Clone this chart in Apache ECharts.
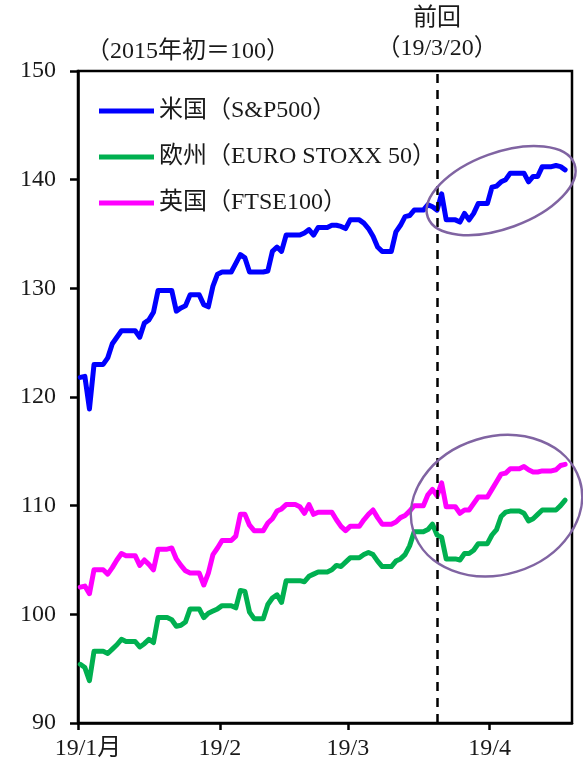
<!DOCTYPE html>
<html>
<head>
<meta charset="utf-8">
<script src="https://cdn.jsdelivr.net/npm/echarts@6/dist/echarts.min.js"></script>
<style>
  html, body { margin: 0; padding: 0; background: #fff; }
  #chart { width: 583px; height: 769px; }
</style>
</head>
<body>
<div id="chart"></div>
<script>
// ---- data (2019, trading days; index 2015年初 = 100) ----
const dates = [
  '01/01','01/02','01/03','01/04','01/07','01/08','01/09','01/10','01/11','01/14','01/15','01/16','01/17','01/18','01/21','01/22','01/23','01/24','01/25','01/28','01/29','01/30','01/31',
  '02/01','02/04','02/05','02/06','02/07','02/08','02/11','02/12','02/13','02/14','02/15','02/18','02/19','02/20','02/21','02/22','02/25','02/26','02/27','02/28',
  '03/01','03/04','03/05','03/06','03/07','03/08','03/11','03/12','03/13','03/14','03/15','03/18','03/19','03/20','03/21','03/22','03/25','03/26','03/27','03/28','03/29',
  '04/01','04/02','04/03','04/04','04/05','04/08','04/09','04/10','04/11','04/12','04/15','04/16','04/17'
];
const sp500 = [
  121.8,121.9,118.9,123.0,123.6,124.9,125.5,126.1,126.1,125.5,126.8,127.1,127.8,129.8,129.8,127.9,128.2,128.4,129.4,128.5,128.3,130.2,131.3,
  131.5,132.3,133.1,132.8,131.5,131.5,131.6,133.4,133.8,133.4,134.9,134.9,135.1,135.4,134.9,135.6,135.8,135.8,135.7,135.5,
  136.3,136.0,135.5,134.8,133.8,133.4,135.2,135.8,136.6,136.7,137.2,137.7,137.5,137.2,138.7,136.3,136.1,136.9,136.3,136.9,137.8,
  139.3,139.4,139.8,140.0,140.6,140.6,139.8,140.3,140.3,141.2,141.3,141.2,140.9
];
const stoxx50 = [
  95.4,95.1,93.9,96.6,96.4,96.8,97.2,97.7,97.5,97.0,97.3,97.7,97.4,99.7,99.5,98.9,99.0,99.3,100.5,99.7,100.1,100.3,100.5,
  100.8,100.6,102.2,102.1,100.2,99.6,100.9,101.5,101.8,101.1,103.1,103.1,103.0,103.5,103.7,103.9,104.1,104.5,104.4,104.8,
  105.2,105.5,105.7,105.5,104.9,104.4,104.9,105.1,105.5,106.3,107.6,107.8,108.3,107.3,107.1,105.1,105.0,105.6,105.6,105.9,106.5,
  107.3,107.8,109.0,109.4,109.5,109.3,108.6,108.8,109.2,109.6,109.6,110.0,110.5
];
const ftse100 = [
  102.5,102.6,101.9,104.1,103.7,104.3,105.0,105.6,105.4,104.5,105.0,104.6,104.1,106.0,106.1,105.1,104.5,104.0,103.8,102.7,103.8,105.5,106.1,
  106.8,107.2,109.2,109.2,108.2,107.7,108.4,108.8,109.5,109.7,110.1,109.9,109.3,110.1,109.2,109.4,109.4,108.7,108.1,107.7,
  108.1,108.7,109.2,109.6,108.9,108.3,108.5,108.9,109.1,109.5,110.0,111.0,111.5,110.9,112.1,109.9,109.3,109.6,109.6,110.2,110.8,
  111.5,112.2,112.9,113.0,113.4,113.6,113.3,113.1,113.1,113.2,113.3,113.7,113.8
];
const seriesNames = ['米国（S&P500）', '欧州（EURO STOXX 50）', '英国（FTSE100）'];
const xTickDates = ['01/01', '02/01', '03/01', '04/01'];
const xTickLabels = ['19/1月', '19/2', '19/3', '19/4'];
const axisEndDate = '04/19';
const previousDate = '03/20';
const previousLabel = ['前回', '（19/3/20）'];
const unitLabel = '（2015年初＝100）';
const yMin = 90, yMax = 150, yStep = 10;
// annotation ellipses, centred on data coordinates
const ellipses = [
  { date: '04/03', value: 139.0, rx: 78, ry: 38, angleDeg: 20 },
  { date: '04/02', value: 110.0, rx: 87, ry: 69, angleDeg: 17 }
];

// ---- helpers ----
function dayIndex(md) {
  const [m, d] = md.split('/').map(Number);
  return (Date.UTC(2019, m - 1, d) - Date.UTC(2019, 0, 1)) / 86400000;
}
// each day's value sits in the middle of its calendar-day slot
function dayCenter(md) { return dayIndex(md) + 0.5; }
// calendar-day display: a close stays in place over the following non-trading days
function calendarPoints(vals) {
  const out = [];
  dates.forEach(function (d, i) {
    const x = dayCenter(d);
    out.push([x, vals[i]]);
    if (i + 1 < dates.length) {
      const nx = dayCenter(dates[i + 1]);
      if (nx - x > 1) out.push([nx - 1, vals[i]]);
    }
  });
  return out;
}

const FONT = "'Liberation Serif', 'Noto Sans CJK JP', serif";
const TXT = '#1a1a1a';
const tickVals = xTickDates.map(dayIndex);

const chart = echarts.init(document.getElementById('chart'), null, { renderer: 'canvas' });

function lineSeries(name, vals, color, extra) {
  return Object.assign({
    name: name,
    type: 'line',
    data: calendarPoints(vals),
    showSymbol: false,
    symbol: 'none',
    lineStyle: { color: color, width: 5, cap: 'round', join: 'round' },
    itemStyle: { color: color },
    animation: false,
    z: 3
  }, extra || {});
}

const option = {
  backgroundColor: '#fff',
  animation: false,
  title: {
    text: unitLabel,
    left: 86,
    top: 39,
    textStyle: { fontFamily: FONT, fontSize: 24, fontWeight: 'normal', color: TXT, lineHeight: 26 },
    padding: 0
  },
  grid: {
    left: 78, right: 11, top: 71, bottom: 46,
    show: true, borderColor: '#000', borderWidth: 2.5, backgroundColor: 'transparent'
  },
  legend: {
    orient: 'vertical',
    left: 94,
    top: 94,
    icon: 'rect',
    itemWidth: 55,
    itemHeight: 5,
    itemGap: 22,
    data: seriesNames,
    textStyle: { fontFamily: FONT, fontSize: 24, color: TXT, lineHeight: 24 },
    selectedMode: false
  },
  xAxis: {
    type: 'value',
    min: 0,
    max: dayIndex(axisEndDate),
    splitLine: { show: false },
    axisLine: { show: true, lineStyle: { color: '#000', width: 2.5 } },
    axisTick: {
      show: true, inside: false, length: 7, customValues: tickVals,
      lineStyle: { color: '#000', width: 2.5 }
    },
    axisLabel: {
      show: true,
      customValues: tickVals,
      margin: 14,
      fontFamily: FONT,
      fontSize: 24,
      color: TXT,
      formatter: function (v) {
        const i = tickVals.indexOf(v);
        if (i === 0) return '{first|' + xTickLabels[i] + '}';
        return i >= 0 ? xTickLabels[i] : '';
      },
      rich: {
        first: { fontFamily: FONT, fontSize: 24, color: TXT, padding: [0, 0, 0, 20] }
      }
    }
  },
  yAxis: {
    type: 'value',
    min: yMin, max: yMax, interval: yStep,
    splitLine: { show: false },
    axisLine: { show: true, lineStyle: { color: '#000', width: 2.5 } },
    axisTick: { show: true, inside: false, length: 8, lineStyle: { color: '#000', width: 2.5 } },
    axisLabel: { margin: 22, fontFamily: FONT, fontSize: 24, color: TXT }
  },
  series: [
    lineSeries(seriesNames[0], sp500, '#0000FF', {
      markLine: {
        silent: true,
        symbol: ['none', 'none'],
        animation: false,
        lineStyle: { color: '#000', width: 2.5, type: [9, 7] },
        label: {
          show: true,
          position: 'end',
          distance: 7,
          formatter: previousLabel.join('\n'),
          fontFamily: FONT, fontSize: 24, lineHeight: 30, color: TXT
        },
        emphasis: { disabled: true },
        data: [{ xAxis: dayCenter(previousDate) }]
      }
    }),
    lineSeries(seriesNames[1], stoxx50, '#00B050'),
    lineSeries(seriesNames[2], ftse100, '#FF00FF')
  ]
};
chart.setOption(option);

// annotation ellipses positioned from data coordinates
const graphics = ellipses.map(function (e) {
  const p = chart.convertToPixel({ gridIndex: 0 }, [dayCenter(e.date), e.value]);
  return {
    type: 'ellipse',
    x: p[0], y: p[1],
    rotation: e.angleDeg * Math.PI / 180,
    shape: { cx: 0, cy: 0, rx: e.rx, ry: e.ry },
    style: { fill: 'none', stroke: '#8064A2', lineWidth: 2.5 },
    silent: true,
    z: 10
  };
});
chart.setOption({ graphic: graphics });
</script>
</body>
</html>
